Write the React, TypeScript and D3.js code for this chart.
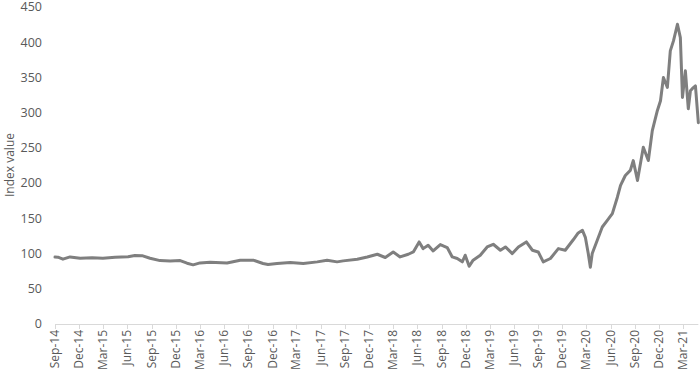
import React, { useEffect, useRef } from "react";
import * as d3 from "d3";

const dates: string[] = [
  "2014-09-01","2014-09-12","2014-10-01","2014-10-28","2014-12-05","2015-01-19","2015-03-01","2015-04-16",
  "2015-06-04","2015-06-30","2015-07-27","2015-08-26","2015-10-03","2015-11-10","2015-12-18","2016-01-13",
  "2016-02-05","2016-03-02","2016-04-09","2016-06-12","2016-08-01","2016-09-19","2016-10-26","2016-11-14",
  "2016-12-18","2017-02-06","2017-03-27","2017-05-19","2017-06-25","2017-08-02","2017-08-25","2017-10-17",
  "2017-11-24","2018-01-01","2018-01-31","2018-03-02","2018-03-28","2018-04-28","2018-05-17","2018-06-08",
  "2018-06-23","2018-07-12","2018-07-31","2018-08-27","2018-09-22","2018-10-11","2018-10-30","2018-11-18",
  "2018-11-29","2018-12-14","2018-12-29","2019-01-25","2019-02-20","2019-03-15","2019-04-11","2019-04-30",
  "2019-05-26","2019-06-18","2019-07-18","2019-08-10","2019-09-01","2019-09-20","2019-10-17","2019-11-16",
  "2019-12-12","2020-01-12","2020-01-30","2020-02-15","2020-02-26","2020-03-08","2020-03-16","2020-03-23",
  "2020-04-11","2020-04-30","2020-05-19","2020-06-07","2020-06-26","2020-07-08","2020-07-26","2020-08-14",
  "2020-08-25","2020-09-10","2020-10-02","2020-10-21","2020-11-05","2020-11-24","2020-12-06","2020-12-17",
  "2021-01-01","2021-01-12","2021-01-24","2021-02-08","2021-02-19","2021-02-27","2021-03-10","2021-03-21",
  "2021-03-29","2021-04-05","2021-04-17","2021-04-28"
];

const indexValues: number[] = [
  95, 94.8, 92, 95.2, 93.4, 94, 93.4, 94.8,
  95.5, 97.2, 97, 93.4, 90, 89.6, 90, 86.3,
  84, 86.7, 87.7, 86.7, 90.6, 90.6, 85.9, 84.5,
  85.9, 87.3, 85.9, 88.2, 90.6, 88.2, 89.6, 92,
  95.2, 99, 94.4, 102.3, 95.2, 99, 102.3, 116.5,
  107, 111.8, 103.7, 112.8, 108.5, 95.2, 93, 88.2,
  97.6, 82, 90.6, 97.6, 109.4, 113.2, 104.7, 109.4,
  100, 109.4, 116.5, 104.7, 102.3, 88.2, 93, 107,
  104.7, 119.9, 129.2, 133, 123, 100, 80.7, 100,
  118.9, 137.7, 147.2, 156.6, 180, 196.7, 210.8, 218,
  232, 203.8, 250.9, 232, 274.5, 302.8, 317, 350,
  335.8, 387.7, 401.9, 425.5, 406.5, 321.6, 359.4, 305.6,
  331.1, 334, 338, 285.8
];

const yTicks: number[] = [0, 50, 100, 150, 200, 250, 300, 350, 400, 450];

const tickDates: string[] = [
  "2014-09-01","2014-12-01","2015-03-01","2015-06-01","2015-09-01","2015-12-01","2016-03-01","2016-06-01",
  "2016-09-01","2016-12-01","2017-03-01","2017-06-01","2017-09-01","2017-12-01","2018-03-01","2018-06-01",
  "2018-09-01","2018-12-01","2019-03-01","2019-06-01","2019-09-01","2019-12-01","2020-03-01","2020-06-01",
  "2020-09-01","2020-12-01","2021-03-01"
];

const yTitle = "Index value";

export default function App() {
  const ref = useRef<SVGSVGElement>(null);

  useEffect(() => {
    const svg = d3.select(ref.current);
    svg.selectAll("*").remove();
    const parse = d3.timeParse("%Y-%m-%d");
    const fmt = d3.timeFormat("%b-%y");
    const data = dates.map((d, i) => ({ date: parse(d) as Date, value: indexValues[i] }));
    const ticks = tickDates.map((d) => parse(d) as Date);

    const x = d3.scaleTime().domain([ticks[0], ticks[ticks.length - 1]]).range([55, 683]);
    const y = d3.scaleLinear().domain([0, 450]).range([324, 7]);
    const font = "'Open Sans', 'Noto Sans', sans-serif";

    const g = svg.append("g");
    const xEnd = x(data[data.length - 1].date);
    g.append("line")
      .attr("x1", x(ticks[0])).attr("x2", Math.max(xEnd, 697))
      .attr("y1", y(0) + 0.5).attr("y2", y(0) + 0.5)
      .attr("stroke", "#d9d9d9").attr("stroke-width", 1);
    g.selectAll(".tk").data(ticks).enter().append("line")
      .attr("x1", (d) => Math.round(x(d)) + 0.5).attr("x2", (d) => Math.round(x(d)) + 0.5)
      .attr("y1", y(0)).attr("y2", y(0) + 5)
      .attr("stroke", "#d9d9d9").attr("stroke-width", 1);
    g.selectAll(".xl").data(ticks).enter().append("text")
      .attr("transform", (d) => `translate(${x(d) + 4},${y(0) + 6}) rotate(-90)`)
      .attr("text-anchor", "end")
      .attr("font-family", font).attr("font-size", 12).attr("fill", "#595959")
      .text((d) => fmt(d));

    g.selectAll(".yl").data(yTicks).enter().append("text")
      .attr("x", 42).attr("y", (d) => y(d) + 4.3)
      .attr("text-anchor", "end")
      .attr("font-family", font).attr("font-size", 12.5).attr("fill", "#595959")
      .text((d) => String(d));

    g.append("text")
      .attr("transform", `translate(14,${165}) rotate(-90)`)
      .attr("text-anchor", "middle")
      .attr("font-family", font).attr("font-size", 12).attr("fill", "#595959")
      .text(yTitle);

    const line = d3.line<{ date: Date; value: number }>()
      .x((d) => x(d.date)).y((d) => y(d.value));
    g.append("path").datum(data)
      .attr("d", line)
      .attr("fill", "none").attr("stroke", "#7f7f7f").attr("stroke-width", 3)
      .attr("stroke-linejoin", "round").attr("stroke-linecap", "round");
  }, []);

  return (
    <svg ref={ref} width={700} height={379}
      style={{ position: "absolute", left: 0, top: 0, background: "#fff" }} />
  );
}
